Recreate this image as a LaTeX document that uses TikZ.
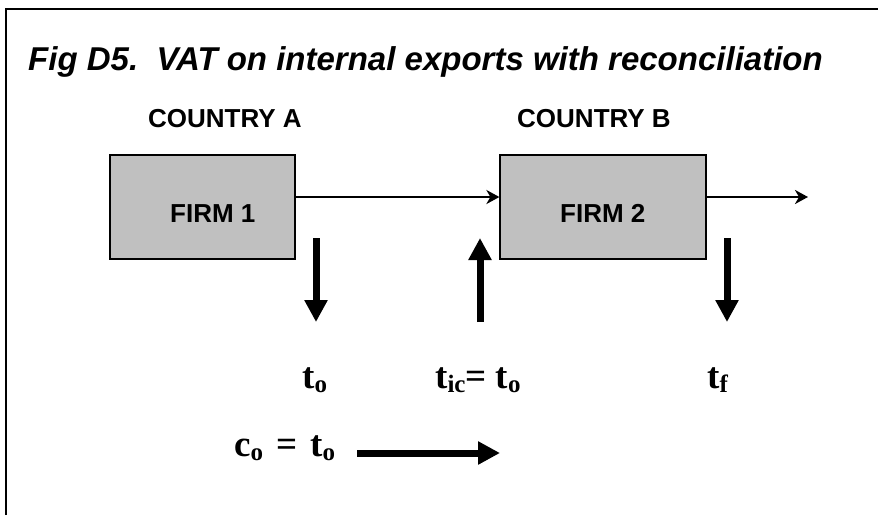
\documentclass[tikz,border=0pt]{standalone}
\usepackage{fontspec}
\setmainfont{Liberation Sans}
\newfontfamily\tnr{Liberation Serif}
\usetikzlibrary{arrows.meta}
\definecolor{boxgray}{HTML}{C0C0C0}
\newcommand\lowsub[1]{\raisebox{-4pt}{\fontsize{25}{25}\selectfont #1}}
\begin{document}
\begin{tikzpicture}[x=1pt,y=-1pt,
  firm/.style={draw=black, line width=1.2pt, fill=boxgray, minimum height=104pt, inner sep=0pt},
  firmlbl/.style={anchor=base west, inner sep=0pt, font=\fontsize{26}{26}\selectfont\bfseries},
  country/.style={anchor=base west, inner sep=0pt, font=\fontsize{26}{26}\selectfont\bfseries},
  flow/.style={line width=2.8pt, -{Stealth[length=13pt,width=14pt,inset=4pt]}},
  tax/.style={line width=7pt, -{Triangle[length=22pt,width=22pt]}},
  lab/.style={anchor=base west, inner sep=0pt, font=\fontsize{37}{37}\selectfont\tnr\bfseries}]
\useasboundingbox (0,0) rectangle (878,515);
% frame (top and left edges)
\coordinate (fb) at (6,515);
\coordinate (fc) at (6,9);
\coordinate (fr) at (878,9);
\draw[line width=2.2pt] (fb) -- (fc) -- (fr);
% title
\node[anchor=base west, inner sep=0pt, font=\fontsize{33}{33}\selectfont\bfseries\itshape] (title) at (28,70) {Fig D5.\ \ VAT on internal exports with reconciliation};
% countries
\node[country] (ca) at (148,127) {COUNTRY A};
\node[country] (cb) at (517,127) {COUNTRY B};
% firms
\node[firm, minimum width=185pt] (f1) at (202.5,207) {};
\node[firm, minimum width=206pt] (f2) at (603,207) {};
\node[firmlbl] (f1t) at (170,222) {FIRM 1};
\node[firmlbl] (f2t) at (560,222) {FIRM 2};
% goods flow
\coordinate (out) at (808,197);
\draw[flow] ([yshift=10pt]f1.east) -- ([yshift=10pt]f2.west);
\draw[flow] ([yshift=10pt]f2.east) -- (out);
% tax arrows
\coordinate (d1s) at (316,238);
\coordinate (d1e) at (316,322);
\coordinate (u1s) at (480,322);
\coordinate (u1e) at (480,238);
\coordinate (d2s) at (727,238);
\coordinate (d2e) at (727,322);
\draw[tax] (d1s) -- (d1e);
\draw[tax] (u1s) -- (u1e);
\draw[tax] (d2s) -- (d2e);
% labels
\node[lab] (l1) at (302,388) {t\lowsub{o}};
\node[lab] (l2) at (435,388) {t\lowsub{ic}= t\lowsub{o}};
\node[lab] (l3) at (707,388) {t\lowsub{f}};
\node[lab] (l4) at (234,456) {c\lowsub{o}\hspace{13pt}=\hspace{13pt}t\lowsub{o}};
% reconciliation arrow
\coordinate (cs) at (357,453);
\coordinate (ce) at (500,453);
\draw[tax] (cs) -- (ce);
\end{tikzpicture}
\end{document}
